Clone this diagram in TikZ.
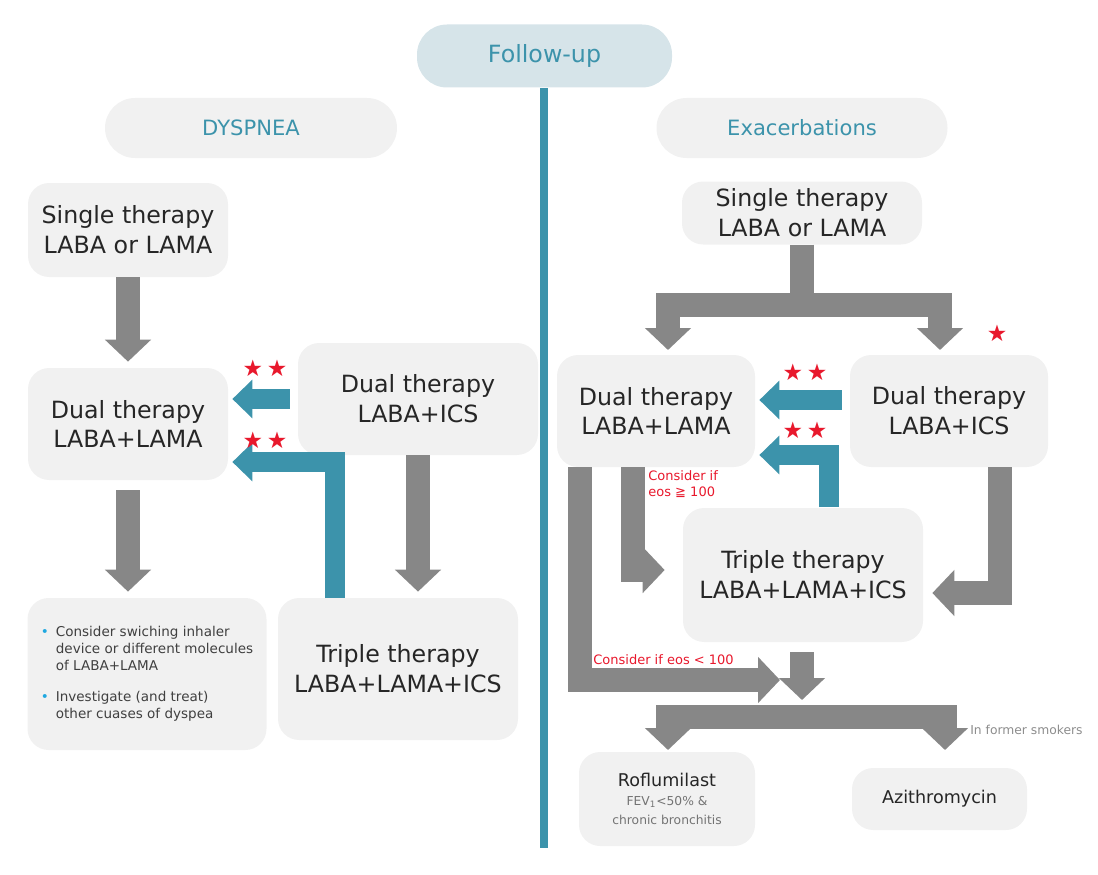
\documentclass[tikz,border=0pt]{standalone}
\usepackage{fontspec}
\setmainfont{DejaVu Sans}
\usetikzlibrary{arrows.meta,calc}
\definecolor{boxgray}{HTML}{F1F1F1}
\definecolor{pillblue}{HTML}{D6E4E9}
\definecolor{tealc}{HTML}{3C93AB}
\definecolor{arrgray}{HTML}{878787}
\definecolor{starred}{HTML}{E8182C}
\definecolor{dotblue}{HTML}{1FA8E0}
\tikzset{
  box/.style={fill=boxgray, rounded corners=12pt, align=center, inner sep=0pt},
  pill/.style={fill=pillblue!40!boxgray, rounded corners=17pt, text=tealc, inner sep=0pt, font=\fontsize{12}{14}\selectfont},
  big/.style={font=\fontsize{13.5}{17}\selectfont, text=black!85},
  flow/.style={draw=arrgray, line width=24*0.02cm, line join=miter,
    -{Triangle[length=0.44cm,width=0.9cm]}},
  back/.style={draw=tealc, line width=20*0.02cm, line join=miter,
    -{Triangle[length=0.4cm,width=0.75cm]}},
  redlab/.style={text=starred, font=\fontsize{7.4}{9}\selectfont, align=left, inner sep=0pt},
  stars/.style={text=starred, font=\fontsize{13}{14}\selectfont, inner sep=0pt}
}
\begin{document}
\begin{tikzpicture}[x=0.02cm, y=-0.02cm]
  \useasboundingbox (0,0) rectangle (1098,875);
  % headers
  \fill[tealc] (540,88) rectangle (548,848);
  \node[pill, minimum width=255*0.02cm, minimum height=63*0.02cm, rounded corners=0.6cm, fill=pillblue,
    font=\fontsize{13.5}{16}\selectfont] (follow) at (544.5,56) {Follow-up};
  \node[pill, minimum width=292*0.02cm, minimum height=60*0.02cm, rounded corners=0.6cm, fill=boxgray] (dysp) at (251,128) {DYSPNEA};
  \node[pill, minimum width=291*0.02cm, minimum height=60*0.02cm, rounded corners=0.6cm, fill=boxgray] (exac) at (802,128) {Exacerbations};

  % left column
  \node[box, big, minimum width=200*0.02cm, minimum height=94*0.02cm] (lsingle) at (128,230) {Single therapy\\LABA or LAMA};
  \node[box, big, minimum width=200*0.02cm, minimum height=112*0.02cm] (ldual) at (128,424) {Dual therapy\\LABA+LAMA};
  \node[box, big, minimum width=240*0.02cm, minimum height=112*0.02cm] (lics) at (418,399) {Dual therapy\\LABA+ICS};
  \node[box, minimum width=239*0.02cm, minimum height=152*0.02cm, text=black!75,
    font=\fontsize{7.7}{9.6}\selectfont] (lbul) at (147,674) {%
    \begin{tabular}{@{}l@{\hspace{4pt}}l@{}}
      \textcolor{dotblue}{\textbullet} & Consider swiching inhaler\\
      & device or different molecules\\
      & of LABA+LAMA\\[8pt]
      \textcolor{dotblue}{\textbullet} & Investigate (and treat)\\
      & other cuases of dyspea
    \end{tabular}};
  \node[box, big, minimum width=240*0.02cm, minimum height=142*0.02cm] (ltriple) at (398,669) {Triple therapy\\LABA+LAMA+ICS};

  \coordinate (lt1) at (335,598);
  \draw[flow, shorten >=6*0.02cm] (lsingle.south) -- (ldual.north);
  \draw[back, shorten <=8*0.02cm, shorten >=4*0.02cm] (lics.west) -- (lics.west -| ldual.east);
  \draw[back, shorten >=4*0.02cm] (lt1) |- ($(ldual.east)+(0,38)$);
  \draw[flow, shorten <=10*0.02cm, shorten >=6*0.02cm] (ldual.south) -- (ldual.south |- lbul.north);
  \draw[flow, shorten >=6*0.02cm] (lics.south) -- (lics.south |- ltriple.north);
  \node[stars] (lstar1) at (265,368) {★\,★};
  \node[stars] (lstar2) at (265,440) {★\,★};

  % right column
  \node[box, big, minimum width=240*0.02cm, minimum height=63*0.02cm] (rsingle) at (802,213) {Single therapy\\LABA or LAMA};
  \node[box, big, minimum width=198*0.02cm, minimum height=112*0.02cm] (rdual) at (656,411) {Dual therapy\\LABA+LAMA};
  \node[box, big, minimum width=198*0.02cm, minimum height=112*0.02cm] (rics) at (949,411) {Dual therapy\\LABA+ICS};
  \node[box, big, minimum width=240*0.02cm, minimum height=134*0.02cm] (rtriple) at (803,575) {Triple therapy\\LABA+LAMA+ICS};
  \node[box, minimum width=176*0.02cm, minimum height=94*0.02cm, text=black!55,
    font=\fontsize{7}{11}\selectfont] (roflu) at (667,799)
    {{\fontsize{10}{13}\selectfont\color{black!85}Roflumilast}\\FEV\textsubscript{1}<50\% \&\\chronic bronchitis};
  \node[box, minimum width=175*0.02cm, minimum height=62*0.02cm, text=black!85,
    font=\fontsize{10}{13}\selectfont] (azi) at (939.5,799) {Azithromycin};

  \coordinate (rbar) at (802,305);
  \coordinate (rt1) at (829,507);
  \coordinate (rbar2) at (802,717);
  \draw[flow] (rsingle.south) |- (rbar) -| (668,350);
  \draw[flow] (rsingle.south) |- (rbar) -| (940,350);
  \draw[back, shorten <=8*0.02cm, shorten >=4*0.02cm] (rics.west |- 0,400) -- (rdual.east |- 0,400);
  \draw[back, shorten >=4*0.02cm] (rt1) |- ($(rdual.east)+(0,44)$);
  \draw[flow] ($(rdual.south)+(-23,0)$) |- ($(rtriple.west)+(-18,-5)$);
  \draw[flow] ($(rdual.south)+(-76,0)$) |- (780,680);
  \draw[flow] ($(rics.south)+(51,0)$) |- ($(rtriple.east)+(9,18)$);
  \draw[flow, shorten <=10*0.02cm] (rtriple.south -| rbar2) -- (802,700);
  \draw[flow] (rbar2) -| (668,750);
  \draw[flow] (rbar2) -| (945,750);
  \node[stars] (rstar0) at (997,333) {★};
  \node[stars] (rstar1) at (805,372) {★\,★};
  \node[stars] (rstar2) at (805,430) {★\,★};
  \node[redlab, anchor=north west] (eos1) at (648,470) {Consider if\\eos ≧ 100};
  \node[redlab, anchor=west] (eos2) at (593,660) {Consider if eos < 100};
  \node[redlab, anchor=west, text=black!45, font=\fontsize{7}{9}\selectfont] (smok) at (970,730) {In former smokers};
\end{tikzpicture}
\end{document}
